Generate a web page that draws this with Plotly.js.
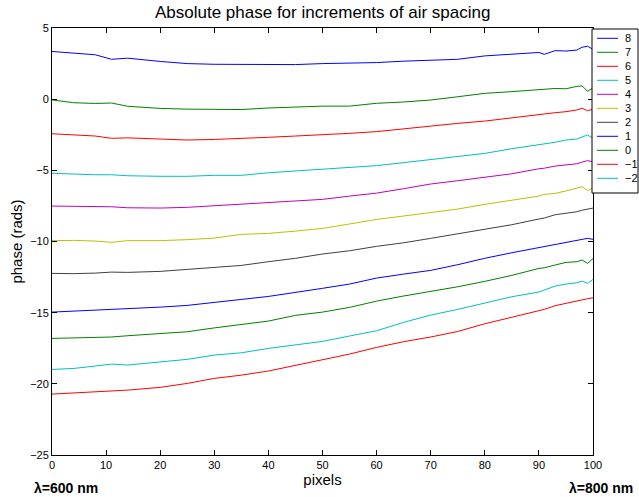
<!DOCTYPE html>
<html>
<head>
<meta charset="utf-8">
<script src="https://cdn.plot.ly/plotly-3.0.1.min.js"></script>
<style>html,body{margin:0;padding:0;background:#fff;}#chart{width:639px;height:497px;}</style>
</head>
<body>
<div id="chart"></div>
<script>
// x positions (pixels) at which values were read
const pixels = [0,4,8,11,14,20,25,30,35,40,45,50,55,60,65,70,75,80,85,90,91,93,95,97,98,99,100];

const names = ['8','7','6','5','4','3','2','1','0','\u22121','\u22122'];
const colors = ['#0000ff','#008000','#ff0000','#00bfbf','#bf00bf','#bfbf00','#404040','#0000ff','#008000','#ff0000','#00bfbf'];

const s8  = [3.35,3.22,3.12,2.8,2.88,2.65,2.5,2.45,2.45,2.45,2.43,2.5,2.52,2.57,2.67,2.75,2.8,3.04,3.16,3.28,3.15,3.41,3.38,3.45,3.65,3.72,3.5];
const s7  = [-0.05,-0.25,-0.3,-0.27,-0.5,-0.65,-0.7,-0.73,-0.73,-0.62,-0.55,-0.49,-0.49,-0.29,-0.2,-0.06,0.17,0.41,0.53,0.69,0.7,0.75,0.73,0.9,0.93,0.55,0.8];
const s6  = [-2.43,-2.5,-2.59,-2.75,-2.72,-2.8,-2.87,-2.83,-2.73,-2.68,-2.59,-2.52,-2.4,-2.28,-2.08,-1.89,-1.7,-1.54,-1.3,-1.09,-1.05,-0.95,-0.88,-0.76,-0.64,-0.81,-0.71];
const s5  = [-5.21,-5.28,-5.31,-5.31,-5.38,-5.42,-5.42,-5.35,-5.35,-5.17,-5.05,-4.93,-4.82,-4.67,-4.46,-4.25,-4.04,-3.81,-3.48,-3.2,-3.15,-3.03,-2.87,-2.8,-2.65,-2.52,-2.75];
const s4  = [-7.51,-7.53,-7.56,-7.56,-7.63,-7.65,-7.6,-7.49,-7.37,-7.25,-7.16,-7.04,-6.81,-6.6,-6.29,-5.96,-5.73,-5.47,-5.24,-4.89,-4.85,-4.7,-4.61,-4.54,-4.42,-4.32,-4.4];
const s3  = [-9.94,-9.92,-9.97,-10.06,-9.94,-9.94,-9.87,-9.76,-9.5,-9.43,-9.27,-9.08,-8.77,-8.45,-8.21,-7.95,-7.72,-7.39,-7.11,-6.81,-6.69,-6.62,-6.45,-6.24,-6.15,-6.43,-6.22];
const s2  = [-12.24,-12.26,-12.22,-12.15,-12.17,-12.1,-11.96,-11.84,-11.68,-11.42,-11.18,-10.88,-10.65,-10.34,-10.09,-9.78,-9.45,-9.12,-8.82,-8.42,-8.35,-8.12,-8.02,-7.91,-7.8,-7.7,-7.65];
const s1  = [-14.96,-14.89,-14.82,-14.82,-14.72,-14.61,-14.49,-14.26,-14.07,-13.86,-13.55,-13.29,-12.99,-12.57,-12.29,-12.03,-11.63,-11.18,-10.79,-10.41,-10.34,-10.18,-10.06,-9.9,-9.85,-9.78,-9.85];
const s0  = [-16.81,-16.76,-16.71,-16.71,-16.62,-16.48,-16.34,-16.07,-15.82,-15.59,-15.19,-14.96,-14.63,-14.19,-13.83,-13.53,-13.18,-12.8,-12.38,-11.89,-11.85,-11.65,-11.47,-11.42,-11.3,-11.54,-11.19];
const sm1 = [-20.72,-20.63,-20.56,-20.5,-20.44,-20.25,-19.97,-19.62,-19.39,-19.1,-18.7,-18.33,-17.91,-17.44,-17.04,-16.71,-16.32,-15.78,-15.33,-14.84,-14.77,-14.51,-14.33,-14.16,-14.09,-14.02,-13.95];
const sm2 = [-18.99,-18.92,-18.75,-18.61,-18.68,-18.45,-18.28,-17.98,-17.82,-17.51,-17.28,-17.02,-16.64,-16.27,-15.68,-15.17,-14.77,-14.35,-13.88,-13.55,-13.41,-13.13,-12.99,-12.9,-12.78,-12.94,-12.66];

const series = [s8,s7,s6,s5,s4,s3,s2,s1,s0,sm1,sm2];

const xTicks = [0,10,20,30,40,50,60,70,80,90,100];
const yTicks = [-25,-20,-15,-10,-5,0,5];

const FONT = 'Liberation Sans, Arial, Helvetica, sans-serif';

const traces = series.map((ys, i) => ({
  type: 'scatter', mode: 'lines', x: pixels, y: ys, name: names[i],
  line: {color: colors[i], width: 1}, showlegend: false, hoverinfo: 'skip'
}));

// plot area in pixels: left 52, right 593, top 28, bottom 455
const W = 541, H = 427, L = 52, B = 455;
const px2x = p => (p - L) / W;
const py2y = p => (B - p) / H;

const shapes = [{
  type: 'rect', xref: 'paper', yref: 'paper',
  x0: px2x(592), x1: px2x(638), y0: py2y(193), y1: py2y(29),
  line: {color: '#000', width: 1}, fillcolor: '#fff', layer: 'above'
}];
const annotations = [];
names.forEach((n, i) => {
  const yy = py2y(38.3 + 14 * i);
  shapes.push({type: 'line', xref: 'paper', yref: 'paper', x0: px2x(597), x1: px2x(618), y0: yy, y1: yy,
    line: {color: colors[i], width: 1}, layer: 'above'});
  annotations.push({xref: 'paper', yref: 'paper', x: px2x(623), y: yy, xanchor: 'left', yanchor: 'middle',
    text: n, showarrow: false, font: {family: FONT, size: 11, color: '#000'}});
});
annotations.push({xref: 'paper', yref: 'paper', x: px2x(32), y: py2y(488), xanchor: 'left', yanchor: 'middle',
  text: '<b>\u03bb=600 nm</b>', showarrow: false, font: {family: FONT, size: 14, color: '#000'}});
annotations.push({xref: 'paper', yref: 'paper', x: px2x(635), y: py2y(488), xanchor: 'right', yanchor: 'middle',
  text: '<b>\u03bb=800 nm</b>', showarrow: false, font: {family: FONT, size: 14, color: '#000'}});

const layout = {
  width: 639, height: 497,
  margin: {l: 52, r: 46, t: 28, b: 42},
  paper_bgcolor: '#fff', plot_bgcolor: '#fff',
  font: {family: FONT, size: 11, color: '#000'},
  showlegend: false,
  title: {text: 'Absolute phase for increments of air spacing', font: {family: FONT, size: 17, color: '#000'},
    x: 0.505, xref: 'container', xanchor: 'center', y: 1 - 12 / 497, yref: 'container', yanchor: 'middle'},
  xaxis: {range: [0, 100], tickvals: xTicks, ticktext: xTicks.map(String), ticks: 'inside', ticklen: 5,
    tickcolor: '#000', showline: true, linecolor: '#000', linewidth: 1, mirror: 'ticks', showgrid: false,
    zeroline: false, tickfont: {size: 11}, title: {text: 'pixels', font: {size: 15}, standoff: 0}},
  yaxis: {range: [-25, 5], tickvals: yTicks, ticks: 'inside', ticklen: 5,
    tickcolor: '#000', showline: true, linecolor: '#000', linewidth: 1, mirror: 'ticks', showgrid: false,
    zeroline: false, tickfont: {size: 11}, title: {text: 'phase (rads)', font: {size: 15}, standoff: 3}},
  shapes: shapes,
  annotations: annotations
};

Plotly.newPlot('chart', traces, layout, {displayModeBar: false, staticPlot: true});
</script>
</body>
</html>
